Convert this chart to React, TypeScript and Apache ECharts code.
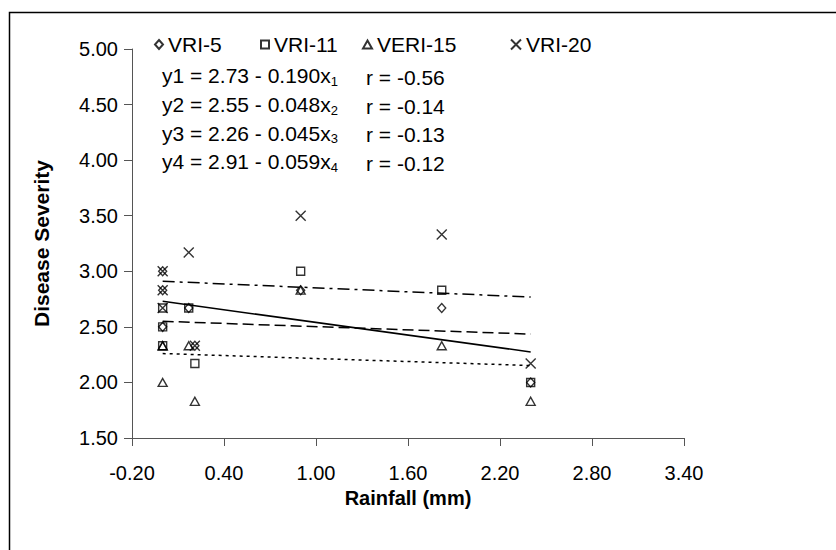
import React, { useEffect, useRef } from 'react';
import * as echarts from 'echarts';

const seriesNames = ['VRI-5', 'VRI-11', 'VERI-15', 'VRI-20'];
const rainfall = [0, 0, 0, 0.17, 0.21, 0.9, 1.82, 2.4];
const vri5 = [3.0, 2.83, 2.5, 2.67, 2.33, 2.83, 2.67, 2.0];
const vri11 = [2.67, 2.5, 2.33, 2.67, 2.17, 3.0, 2.83, 2.0];
const veri15 = [2.33, 2.0, 2.33, 2.33, 1.83, 2.83, 2.33, 1.83];
const vri20 = [3.0, 2.83, 2.67, 3.17, 2.33, 3.5, 3.33, 2.17];
const intercepts = [2.73, 2.55, 2.26, 2.91];
const slopes = [-0.19, -0.048, -0.045, -0.059];
const rValues = ['-0.56', '-0.14', '-0.13', '-0.12'];

const FONT = '"Liberation Sans", Arial, Helvetica, sans-serif';

export default function App() {
  const ref = useRef<HTMLDivElement>(null);
  useEffect(() => {
    if (!ref.current) return;
    const chart = echarts.init(ref.current, undefined, { renderer: 'svg' });
    const values = [vri5, vri11, veri15, vri20];
    const symbols = ['diamond', 'rect', 'triangle', 'path://M0,0L10,10M10,0L0,10'];
    const sizes: any[] = [[8, 9], [8, 8], [9, 8], [10, 10]];
    const legendLefts = [154, 260, 362, 510];
    const lineTypes: any[] = ['solid', [11, 5], [3, 4], [12, 5, 3, 5]];
    const xMin = Math.min(...rainfall);
    const xMax = Math.max(...rainfall);

    const scatter = seriesNames.map((name, i) => ({
      name,
      type: 'scatter',
      symbol: symbols[i],
      symbolSize: sizes[i],
      z: 3,
      itemStyle: { color: 'rgba(0,0,0,0)', borderColor: '#000', borderWidth: 1.4 },
      data: rainfall.map((x, j) => [x, values[i][j]]),
    }));
    const fits = intercepts.map((a, i) => ({
      name: 'fit' + (i + 1),
      type: 'line',
      symbol: 'none',
      z: 2,
      lineStyle: { color: '#000', width: 1.5, type: lineTypes[i] },
      data: [[xMin, a + slopes[i] * xMin], [xMax, a + slopes[i] * xMax]],
    }));

    const eqTexts: any[] = [];
    const eqTops = [77, 106, 134.5, 163];
    intercepts.forEach((a, i) => {
      eqTexts.push({
        type: 'text',
        left: 162,
        top: eqTops[i] - 12,
        style: {
          text: `{n|y${i + 1} = ${a.toFixed(2)} - ${Math.abs(slopes[i]).toFixed(3)}x}{s|${i + 1}}`,
          rich: {
            n: { fontSize: 21, fontFamily: FONT, fill: '#000', lineHeight: 24 },
            s: { fontSize: 13, fontFamily: FONT, fill: '#000', lineHeight: 24, verticalAlign: 'bottom', padding: [9, 0, 0, 0] },
          },
        },
      });
      eqTexts.push({
        type: 'text',
        left: 366,
        top: eqTops[i] - 12,
        style: { text: `r = ${rValues[i]}`, fontSize: 21, fontFamily: FONT, fill: '#000', lineHeight: 24 },
      });
    });

    chart.setOption({
      animation: false,
      backgroundColor: '#fff',
      grid: { left: 132, right: 152, top: 49, bottom: 112 },
      legend: seriesNames.map((n, i) => ({
        data: [n],
        left: legendLefts[i],
        top: 34,
        padding: 0,
        itemWidth: sizes[i][0],
        itemHeight: sizes[i][1],
        itemGap: 5,
        textStyle: { fontSize: 21, fontFamily: FONT, color: '#000' },
        selectedMode: false,
      })),
      xAxis: {
        type: 'value',
        min: -0.2,
        max: 3.4,
        interval: 0.6,
        name: 'Rainfall (mm)',
        nameLocation: 'middle',
        nameGap: 50,
        nameTextStyle: { fontSize: 20, fontWeight: 'bold', fontFamily: FONT, color: '#000' },
        axisLine: { onZero: false, lineStyle: { color: '#555', width: 1 } },
        axisTick: { show: true, inside: false, length: 8, lineStyle: { color: '#555' } },
        axisLabel: { margin: 25, fontSize: 20, fontFamily: FONT, color: '#000', formatter: (v: number) => v.toFixed(2) },
        splitLine: { show: false },
      },
      yAxis: {
        type: 'value',
        min: 1.5,
        max: 5,
        interval: 0.5,
        name: 'Disease Severity',
        nameLocation: 'middle',
        nameGap: 80,
        nameTextStyle: { fontSize: 21, fontWeight: 'bold', fontFamily: FONT, color: '#000' },
        axisLine: { show: true, onZero: false, lineStyle: { color: '#555', width: 1 } },
        axisTick: { show: true, inside: false, length: 8, lineStyle: { color: '#555' } },
        axisLabel: { margin: 14, fontSize: 20, fontFamily: FONT, color: '#000', formatter: (v: number) => v.toFixed(2) },
        splitLine: { show: false },
      },
      graphic: [
        {
          type: 'rect',
          shape: { x: 9.5, y: 12.5, width: 1000, height: 1000 },
          style: { fill: 'none', stroke: '#000', lineWidth: 1.5 },
          silent: true,
        },
        ...eqTexts,
      ],
      series: [...fits, ...scatter],
    });
    return () => chart.dispose();
  }, []);
  return <div ref={ref} style={{ position: 'absolute', left: 0, top: 0, width: 836, height: 550 }} />;
}
